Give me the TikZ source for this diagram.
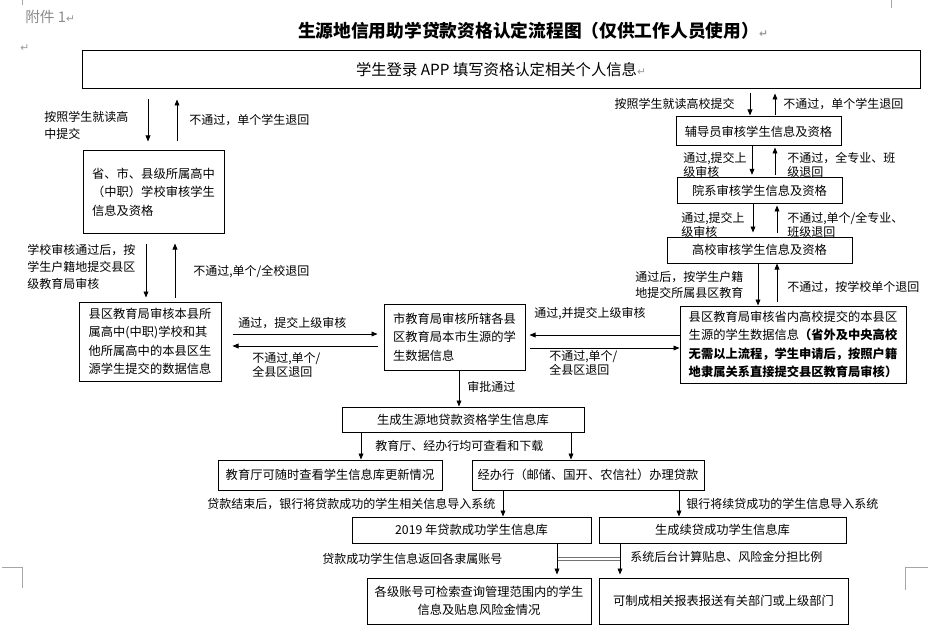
\documentclass[tikz,border=0pt]{standalone}
\usepackage{fontspec}
\setmainfont{Noto Sans CJK SC}
\newfontfamily\symf{DejaVu Sans}
\usetikzlibrary{arrows.meta}
\newcommand{\fs}{\fontsize{9.2pt}{13.8pt}\selectfont}
\newcommand{\fl}{\fontsize{9pt}{13pt}\selectfont}
\newcommand{\ft}{\fontsize{9pt}{10.5pt}\selectfont}
\newcommand{\rmk}{{\symf\color{black!40}\fontsize{8pt}{8pt}\selectfont ↵}}
\tikzset{
  box/.style={draw, line width=0.75pt, fill=white, inner sep=0pt, align=center, font=\fs},
  lbl/.style={inner sep=0pt, align=left, font=\fl, anchor=west},
  tight/.style={font=\ft},
  arr/.style={-{Triangle[length=4.5pt,width=3.6pt]}, line width=0.6pt},
  crop/.style={draw=black!35, line width=0.75pt},
  dline/.style={draw=black!55, line width=0.6pt},
}
\newcommand{\bx}[7][]{\node[box,minimum width={(#4-#2)*0.75pt},minimum height={(#5-#3)*0.75pt},#1] (#6) at ({(#2+#4)/2},{(#3+#5)/2}) {#7};}
\newcommand{\varr}[5]{\draw[arr,shorten <=#4,shorten >=#5] (#1 -| #3,0) -- (#2 -| #3,0);}
\newcommand{\harr}[5]{\draw[arr,shorten <=#4,shorten >=#5] (#1 |- 0,#3) -- (#2 |- 0,#3);}
\begin{document}
\begin{tikzpicture}[x=0.75pt,y=-0.75pt]
\useasboundingbox (0,0) rectangle (928,631);
\fill[white] (0,0) rectangle (928,631);

% header
\node[lbl, font=\fontsize{11pt}{13pt}\selectfont, text=black!45] (att) at (25,17) {附件 1\rmk};
\node[lbl] (pm) at (20,48) {\rmk};
\node[inner sep=0pt, font=\fontsize{13.3pt}{16pt}\selectfont\bfseries] (title) at (533,31) {生源地信用助学贷款资格认定流程图（仅供工作人员使用）\rmk};

% boxes
\bx[font=\fontsize{11.5pt}{14pt}\selectfont]{82}{51}{920}{89}{b1}{学生登录 APP 填写资格认定相关个人信息\rmk}
\bx[align=left]{83}{151}{224}{233}{b2}{省、市、县级所属高中\\（中职）学校审核学生\\信息及资格}
\bx[align=left]{79}{302}{221}{381}{b3}{县区教育局审核本县所\\属高中(中职)学校和其\\他所属高中的本县区生\\源学生提交的数据信息}
\bx[align=left]{384}{304}{525}{370}{b4}{市教育局审核所辖各县\\区教育局本市生源的学\\生数据信息}
\bx[align=left]{680}{306}{906}{383}{b5}{县区教育局审核省内高校提交的本县区\\生源的学生数据信息\textbf{（省外及中央高校}\\\textbf{无需以上流程，学生申请后，按照户籍}\\\textbf{地隶属关系直接提交县区教育局审核）}}
\bx{676}{117}{841}{146}{b6}{辅导员审核学生信息及资格}
\bx{677}{178}{842}{204}{b7}{院系审核学生信息及资格}
\bx{667}{237}{852}{263}{b8}{高校审核学生信息及资格}
\bx{342}{407}{584}{432}{b9}{生成生源地贷款资格学生信息库}
\bx{218}{460}{442}{490}{b10}{教育厅可随时查看学生信息库更新情况}
\bx{472}{460}{704}{490}{b11}{经办行（邮储、国开、农信社）办理贷款}
\bx{352}{517}{591}{543}{b12}{2019 年贷款成功学生信息库}
\bx{599}{517}{846}{543}{b13}{生成续贷成功学生信息库}
\bx{367}{578}{591}{624}{b14}{各级账号可检索查询管理范围内的学生\\信息及贴息风险金情况}
\bx{599}{578}{848}{624}{b15}{可制成相关报表报送有关部门或上级部门}

% left column
\varr{b1.south}{b2.north}{148}{7.5pt}{6.75pt}
\varr{b2.north}{b1.south}{177}{6.75pt}{7.5pt}
\node[lbl] (l1) at (44,125.5) {按照学生就读高\\中提交};
\node[lbl] (l2) at (189,120) {不通过，单个学生退回};
\varr{b2.south}{b3.north}{146}{7.5pt}{3pt}
\varr{b3.north}{b2.south}{175}{3pt}{7.5pt}
\node[lbl] (l3) at (27,267) {学校审核通过后，按\\学生户籍地提交县区\\级教育局审核};
\node[lbl] (l4) at (193,272) {不通过,单个/全校退回};
\harr{b3.east}{b4.west}{334}{8.25pt}{4.5pt}
\harr{b4.west}{b3.east}{346}{4.5pt}{8.25pt}
\node[lbl] (l5) at (238,323) {通过，提交上级审核};
\node[lbl, tight] (l6) at (252,365) {不通过,单个/\\全县区退回};

% middle
\harr{b5.west}{b4.east}{335}{0pt}{3pt}
\harr{b4.east}{b5.west}{348}{3pt}{0pt}
\node[lbl] (l7) at (534,314) {通过,并提交上级审核};
\node[lbl, tight] (l8) at (549,363) {不通过,单个/\\全县区退回};
\varr{b4.south}{b9.north}{459}{0pt}{0pt}
\node[lbl] (l9) at (467,387) {审批通过};

% right column
\varr{b1.south}{b6.north}{750}{3pt}{0.75pt}
\varr{b6.north}{b1.south}{775}{0.75pt}{3pt}
\node[lbl, anchor=east] (r1) at (735,104) {按照学生就读高校提交};
\node[lbl] (r2) at (783,104) {不通过，单个学生退回};
\varr{b6.south}{b7.north}{752}{0pt}{2pt}
\varr{b7.north}{b6.south}{775}{2pt}{0.75pt}
\node[lbl, tight] (r3) at (683,165) {通过,提交上\\级审核};
\node[lbl, tight] (r4) at (787,165) {不通过，全专业、班\\级退回};
\varr{b7.south}{b8.north}{753}{0pt}{3pt}
\varr{b8.north}{b7.south}{777}{3pt}{0.75pt}
\node[lbl, tight] (r5) at (681,225) {通过,提交上\\级审核};
\node[lbl, tight] (r6) at (787,225) {不通过,单个/全专业、\\班级退回};
\varr{b8.south}{b5.north}{758}{0pt}{0pt}
\varr{b5.north}{b8.south}{777}{3pt}{0pt}
\node[lbl, font=\fontsize{9pt}{12pt}\selectfont] (r7) at (635,285) {通过后，按学生户籍\\地提交所属县区教育};
\node[lbl] (r8) at (787,287) {不通过，按学校单个退回};

% bottom
\varr{b9.south}{b10.north}{361}{0pt}{0pt}
\varr{b9.south}{b11.north}{571}{0pt}{0pt}
\node[lbl] (b1l) at (375,446) {教育厅、经办行均可查看和下载};
\varr{b11.south}{b12.north}{503}{0pt}{0pt}
\varr{b11.south}{b13.north}{679}{0pt}{0pt}
\node[lbl] (b2l) at (207,504) {贷款结束后，银行将贷款成功的学生相关信息导入系统};
\node[lbl] (b3l) at (686,504) {银行将续贷成功的学生信息导入系统};
\coordinate (j1) at (557,557);
\coordinate (j2) at (620,557);
\coordinate (k1) at (557,560);
\coordinate (k2) at (620,560);
\draw[dline] (j1) -- (j2);
\draw[dline] (k1) -- (k2);
\varr{b12.south}{b14.north}{557}{0pt}{2.25pt}
\varr{b13.south}{b15.north}{620}{0pt}{2.25pt}
\node[lbl] (b4l) at (322,559) {贷款成功学生信息返回各隶属账号};
\node[lbl] (b5l) at (630,557) {系统后台计算贴息、风险金分担比例};

% crop marks
\draw[crop] (2,567) -- (22,567) -- (22,588);
\draw[crop] (928,567) -- (905,567) -- (905,590);
\draw[crop] (22,0) -- (22,5);
\draw[crop] (891,0) -- (891,8);
\end{tikzpicture}
\end{document}
